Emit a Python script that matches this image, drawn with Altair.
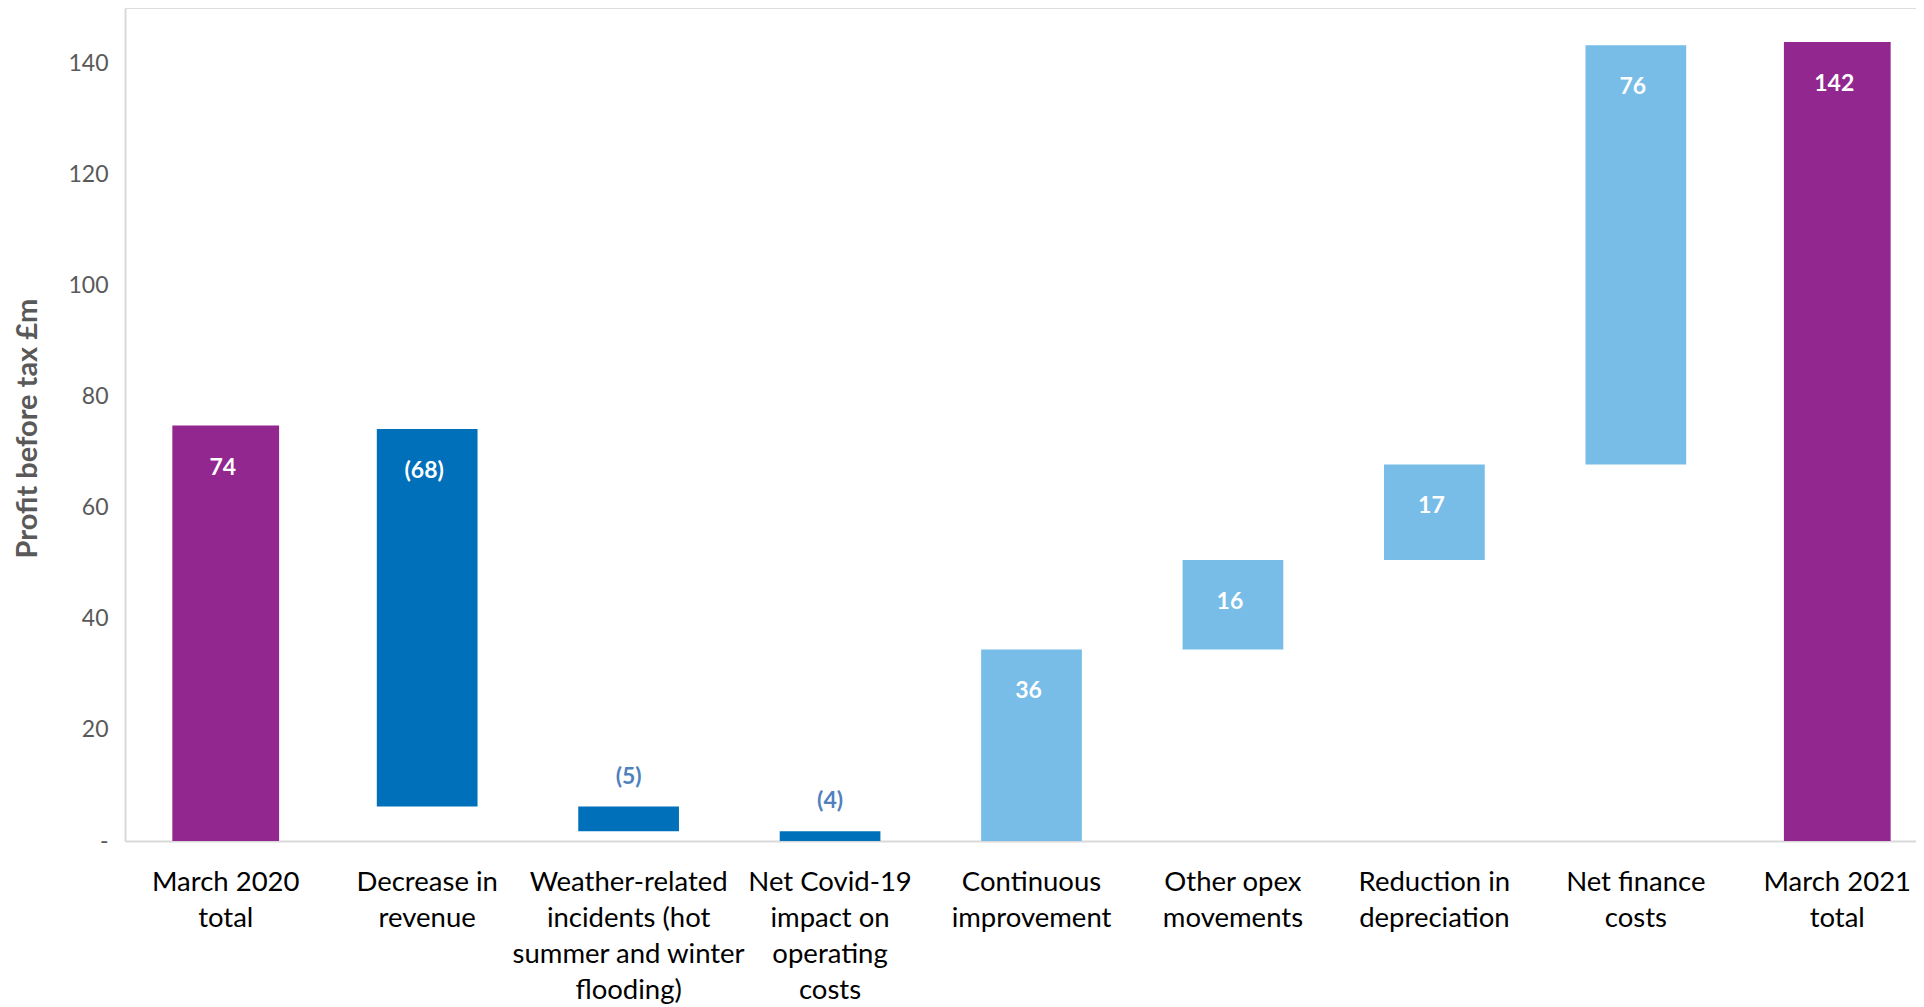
import altair as alt
import pandas as pd

categories = [
    "March 2020|total",
    "Decrease in|revenue",
    "Weather-related|incidents (hot|summer and winter|flooding)",
    "Net Covid-19|impact on|operating|costs",
    "Continuous|improvement",
    "Other opex|movements",
    "Reduction in|depreciation",
    "Net finance|costs",
    "March 2021|total",
]
kinds = ["total", "decrease", "decrease", "decrease", "increase",
         "increase", "increase", "increase", "total"]
bar_start = [0, 74.2, 6.2, 1.76, 0, 34.5, 50.6, 67.8, 0]
bar_end = [74.8, 6.2, 1.76, 0, 34.5, 50.6, 67.8, 143.3, 143.9]
value_labels = ["74", "(68)", "(5)", "(4)", "36", "16", "17", "76", "142"]
y_ticks = [0, 20, 40, 60, 80, 100, 120, 140]

df = pd.DataFrame({
    "category": categories,
    "kind": kinds,
    "start": bar_start,
    "end": bar_end,
    "label": value_labels,
})
df["top"] = df[["start", "end"]].max(axis=1)
df["inside"] = (df["end"] - df["start"]).abs() > 8

FONT = "Lato"

x_enc = alt.X(
    "category:N",
    sort=categories,
    scale=alt.Scale(range=[0, 1813], paddingInner=0, paddingOuter=0),
    axis=alt.Axis(
        title=None,
        labelExpr="split(datum.label, '|')",
        labelAngle=0,
        labelFont=FONT,
        labelFontSize=27.5,
        labelColor="#000000",
        labelLineHeight=36,
        labelBaseline="top",
        labelPadding=27,
        ticks=False,
        domainColor="#D9D9D9",
        domainWidth=2,
        labelLimit=400,
    ),
)

y_scale = alt.Scale(domain=[0, 150], nice=False, zero=False)

color = alt.Color(
    "kind:N",
    scale=alt.Scale(domain=["total", "decrease", "increase"],
                    range=["#92278F", "#0070BA", "#77BDE8"]),
    legend=None,
)

base = alt.Chart(df)

bars_total = base.transform_filter("datum.kind == 'total'").mark_bar(
    width=alt.RelativeBandSize(0.53)
).encode(
    x=x_enc,
    y=alt.Y(
        "start:Q",
        scale=y_scale,
        axis=alt.Axis(
            values=y_ticks,
            labelExpr="datum.value == 0 ? '-' : datum.label",
            labelFont=FONT,
            labelFontSize=23,
            labelColor="#595959",
            labelPadding=17,
            ticks=False,
            grid=False,
            domainColor="#D9D9D9",
            domainWidth=2,
            title="Profit before tax £m",
            titleFont=FONT,
            titleFontSize=29,
            titleFontWeight="bold",
            titleColor="#595959",
            titleAngle=-90,
            titleAlign="center",
            titleBaseline="middle",
            titleX=-98,
            titleY=420,
        ),
    ),
    y2="end:Q",
    color=color,
)

bars_step = base.transform_filter("datum.kind != 'total'").mark_bar(
    width=alt.RelativeBandSize(0.5)
).encode(
    x=x_enc,
    y=alt.Y("start:Q", scale=y_scale),
    y2="end:Q",
    color=color,
)

labels_in = base.transform_filter("datum.inside").mark_text(
    font=FONT, fontSize=23, fontWeight="bold", color="#FFFFFF",
    baseline="middle", dy=42, dx=-3,
).encode(
    x=x_enc,
    y=alt.Y("top:Q", scale=y_scale),
    text="label:N",
)

labels_out = base.transform_filter("!datum.inside").mark_text(
    font=FONT, fontSize=23, fontWeight="bold", color="#4F81BD",
    baseline="middle", dy=-30,
).encode(
    x=x_enc,
    y=alt.Y("top:Q", scale=y_scale),
    text="label:N",
)

chart = alt.layer(bars_total, bars_step, labels_in, labels_out).properties(
    width=1791,
    height=833,
    autosize=alt.AutoSizeParams(type="none"),
    padding={"left": 117, "top": 0, "right": 0, "bottom": 175},
).configure_view(stroke=None).configure(background="#FFFFFF")

chart.save("out.html", embed_options={"renderer": "svg", "actions": False})
